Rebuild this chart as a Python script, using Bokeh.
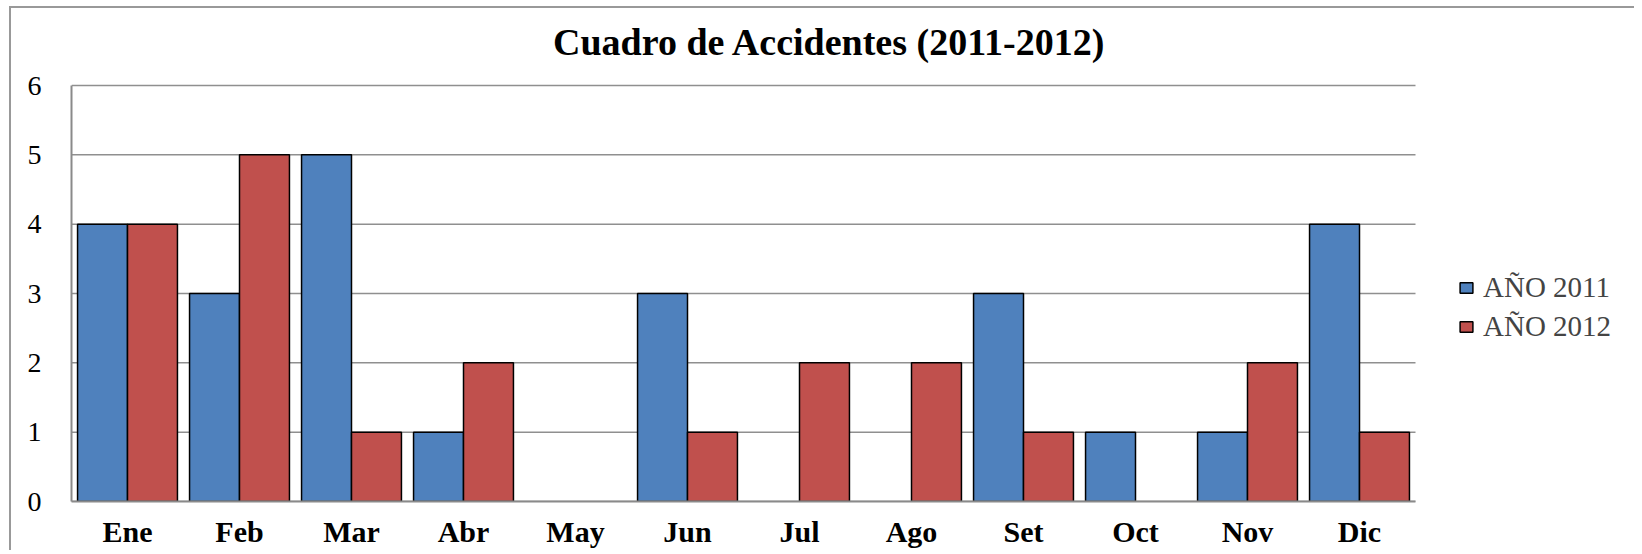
from bokeh.plotting import figure
from bokeh.models import ColumnDataSource, Range1d, Legend, LegendItem, Label, FixedTicker
from bokeh.embed import file_html
from bokeh.resources import INLINE

months = ["Ene", "Feb", "Mar", "Abr", "May", "Jun", "Jul", "Ago", "Set", "Oct", "Nov", "Dic"]
y2011 = [4, 3, 5, 1, 0, 3, 0, 0, 3, 1, 1, 4]
y2012 = [4, 5, 1, 2, 0, 1, 2, 2, 1, 0, 2, 1]
series_names = ["AÑO 2011", "AÑO 2012"]
title_text = "Cuadro de Accidentes (2011-2012)"
y_ticks = [0, 1, 2, 3, 4, 5, 6]

FONT = "Liberation Serif"
BAR_W = 0.446

centers = [i + 0.5 for i in range(len(months))]
src_a = ColumnDataSource(dict(x=[c - BAR_W / 2 for c in centers], top=y2011,
                              lc=["black" if v > 0 else None for v in y2011]))
src_b = ColumnDataSource(dict(x=[c + BAR_W / 2 for c in centers], top=y2012,
                              lc=["black" if v > 0 else None for v in y2012]))

# layout (pixels)
W, H = 1625, 544
ML, MT, MB, MR = 60, 0, 51, 5
frame_w = W - ML - MR
frame_h = H - MT - MB
cat_px = 112.0                 # pixels per month
unit_px = 416.0 / 6            # pixels per accident
x_end = frame_w / cat_px
y_end = frame_h / unit_px
y_max = max(y_ticks)

p = figure(x_range=Range1d(0, x_end), y_range=Range1d(0, y_end),
           width=W, height=H, output_backend="svg", toolbar_location=None,
           min_border_left=ML, min_border_top=MT, min_border_bottom=MB, min_border_right=MR,
           title=None)

# gridlines only across the category area
p.segment(x0=[0] * len(y_ticks), x1=[len(months)] * len(y_ticks), y0=y_ticks, y1=y_ticks,
          line_color="#8f8f8f", line_width=1.5)

r1 = p.vbar(x="x", top="top", width=BAR_W, source=src_a,
            fill_color="#4F81BD", line_color="lc", line_width=1.5)
r2 = p.vbar(x="x", top="top", width=BAR_W, source=src_b,
            fill_color="#C0504D", line_color="lc", line_width=1.5)

title = Label(x=6.77, y=6.63, text=title_text, text_align="center", text_baseline="middle",
              text_font=FONT, text_font_size="38px", text_font_style="bold", text_color="black")
p.add_layout(title)

p.outline_line_color = None
p.xgrid.grid_line_color = None
p.ygrid.grid_line_color = None

p.xaxis.ticker = FixedTicker(ticks=centers)
p.xaxis.major_label_overrides = {c: m for c, m in zip(centers, months)}
p.yaxis.ticker = FixedTicker(ticks=y_ticks)
p.xaxis.bounds = (0, len(months))
p.yaxis.bounds = (0, y_max)

for ax in (p.xaxis[0], p.yaxis[0]):
    ax.major_tick_out = 0
    ax.major_tick_in = 0
    ax.minor_tick_out = 0
    ax.minor_tick_in = 0
    ax.major_label_text_font = FONT
    ax.major_label_text_color = "black"
    ax.axis_line_color = "#8a8a8a"
    ax.axis_line_width = 2

p.yaxis.major_label_text_font_size = "28px"
p.yaxis.major_label_standoff = 30
p.xaxis.major_label_text_font_size = "30px"
p.xaxis.major_label_text_font_style = "bold"
p.xaxis.major_label_standoff = 13

legend = Legend(items=[LegendItem(label=series_names[0], renderers=[r1]),
                       LegendItem(label=series_names[1], renderers=[r2])],
                location=(1387, 158), border_line_color=None, background_fill_alpha=0,
                label_text_font=FONT, label_text_font_size="29px",
                glyph_width=16, glyph_height=13, label_standoff=9, spacing=6,
                label_height=28, padding=0, margin=0)
p.add_layout(legend, "center")

p.styles = {"border-left": "2px solid #999999", "border-top": "2px solid #999999",
            "margin-left": "9px", "margin-top": "6px"}

open("out.html", "w").write(file_html(p, INLINE))
